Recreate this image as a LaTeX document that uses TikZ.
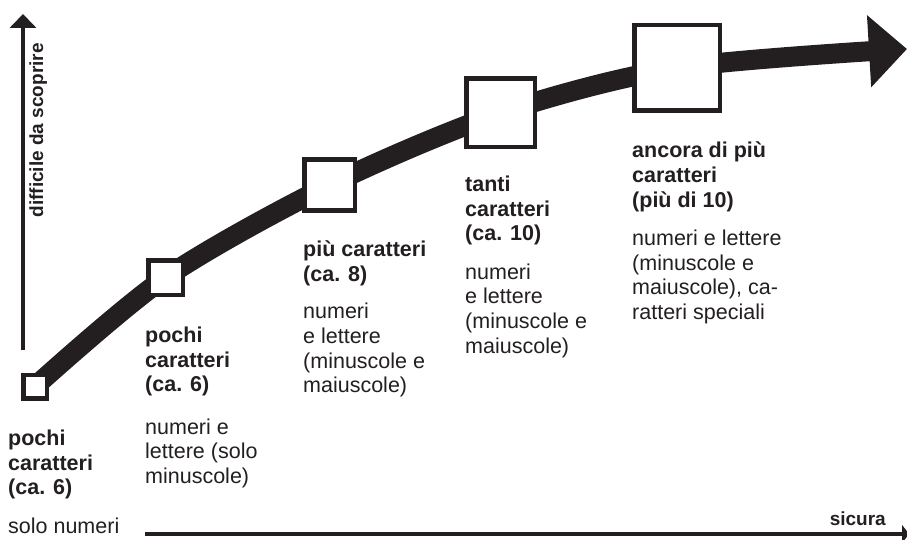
\documentclass[tikz,border=0pt]{standalone}
\usepackage{fontspec}
\setmainfont{Liberation Sans}
\usepackage{xcolor}
\usetikzlibrary{arrows.meta,positioning}
\definecolor{ink}{HTML}{231F20}

\tikzset{
    pwbox/.style={draw=ink, line width=4.5pt, fill=white, inner sep=0pt},
    band/.style={draw=ink, line width=20pt, -{Triangle[length=38pt,width=70pt]}},
    axisline/.style={draw=ink, line width=4pt},
    axlbl/.style={font=\fontsize{19}{22}\selectfont\bfseries, text=ink, inner sep=0pt},
    pwtitle/.style={anchor=north west, inner sep=0pt, align=left, text=ink,
        font=\fontsize{21.5}{24.7}\selectfont\bfseries,
        execute at begin node=\strut, execute at end node=\strut},
    pwdesc/.style={pwtitle, font=\fontsize{21.5}{24.7}\selectfont}
}

\begin{document}
\begin{tikzpicture}[x=1pt, y=-1pt]
        \useasboundingbox (0,0) rectangle (907,540);
        % axes
        \coordinate (yfoot) at (23,350);
        \coordinate (ytip) at (23,14);
        \coordinate (xfoot) at (145,534);
        \coordinate (xtip) at (909,534);
        \draw[axisline, -{Triangle[length=14pt,width=26pt]}] (yfoot) -- (ytip);
        \draw[axisline, line width=4.5pt, -{Triangle[length=7pt,width=18pt]}] (xfoot) -- (xtip);
        \node[axlbl, rotate=90, anchor=base east] (ylab) at (43,43) {difficile da scoprire};
        \node[axlbl, anchor=base east] (xlab) at (886,525) {sicura};

        % curve through the boxes
        \coordinate (p1) at (35,386.5);
        \coordinate (p2) at (165.5,277.5);
        \coordinate (p3) at (329.5,185);
        \coordinate (p4) at (500.5,113);
        \coordinate (p5) at (677,68);
        \coordinate (tip) at (907,49);
        \draw[band] plot[smooth] coordinates {(p1) (p2) (p3) (p4) (p5) (tip)};

        \node[pwbox, minimum size=23.5pt] (b1) at (p1) {};
        \node[pwbox, minimum size=34.5pt] (b2) at (p2) {};
        \node[pwbox, minimum size=50.5pt] (b3) at (p3) {};
        \node[pwbox, minimum size=68.5pt] (b4) at (p4) {};
        \node[pwbox, minimum size=85.5pt] (b5) at (p5) {};

        % labels
        \node[pwtitle] (t1) at (8,429.7) {pochi\\caratteri\\(ca. 6)};
        \node[pwdesc, below=14pt of t1.south west, anchor=north west] (d1) {solo numeri};
        \node[pwtitle] (t2) at (145,326.7) {pochi\\caratteri\\(ca. 6)};
        \node[pwdesc, below=19pt of t2.south west, anchor=north west] (d2) {numeri e\\lettere (solo\\minuscole)};
        \node[pwtitle] (t3) at (303,240.7) {più caratteri\\(ca. 8)};
        \node[pwdesc, below=14pt of t3.south west, anchor=north west] (d3) {numeri\\e lettere\\(minuscole e\\maiuscole)};
        \node[pwtitle] (t4) at (465,175.7) {tanti\\caratteri\\(ca. 10)};
        \node[pwdesc, below=15pt of t4.south west, anchor=north west] (d4) {numeri\\e lettere\\(minuscole e\\maiuscole)};
        \node[pwtitle] (t5) at (632,141.7) {ancora di più\\caratteri\\(più di 10)};
        \node[pwdesc, below=15pt of t5.south west, anchor=north west] (d5) {numeri e lettere\\(minuscole e\\maiuscole), ca-\\ratteri speciali};
    \end{tikzpicture}
\end{document}
